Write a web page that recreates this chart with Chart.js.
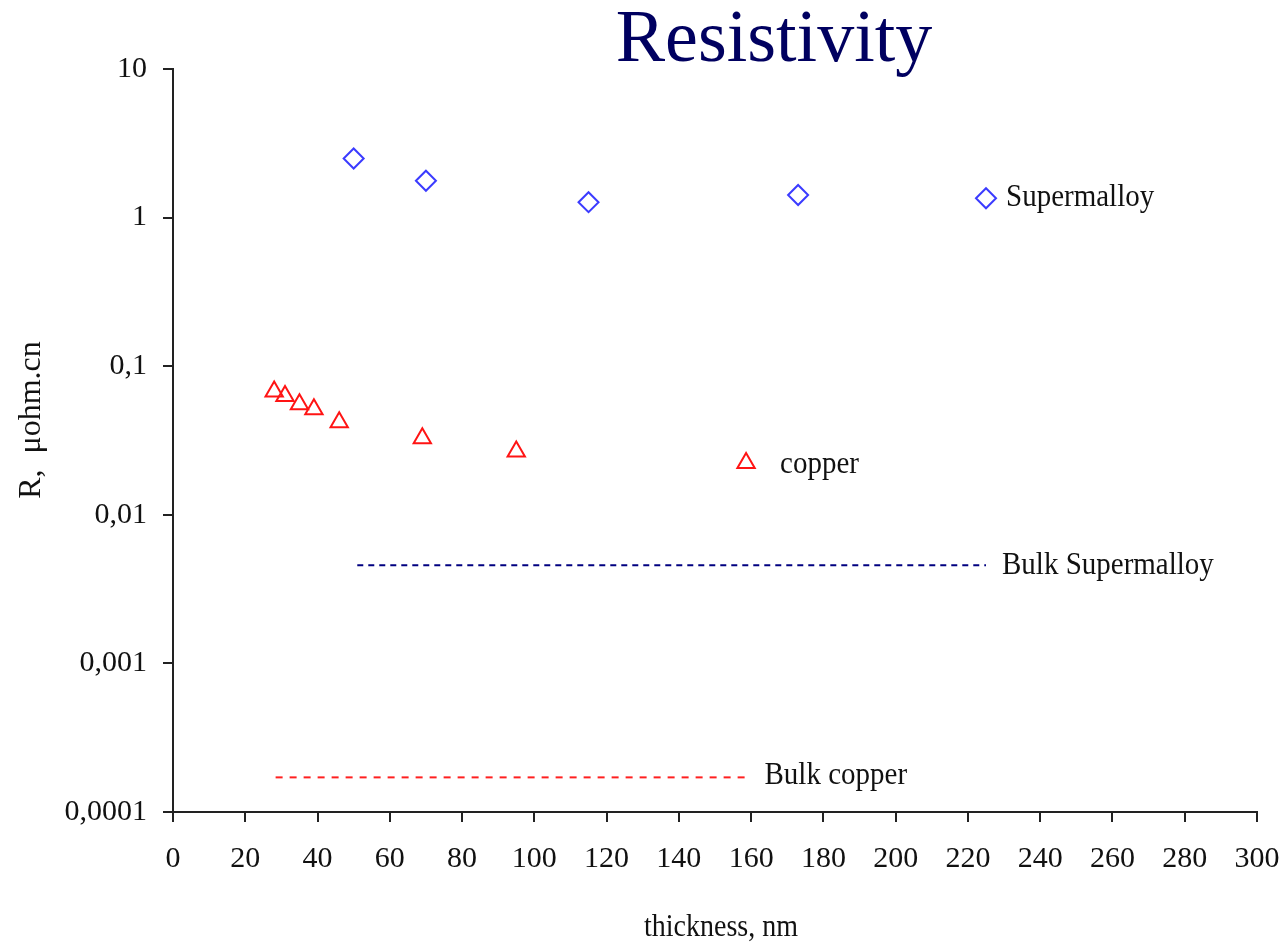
<!DOCTYPE html>
<html lang="en">

<head>
    <meta charset="UTF-8">
    <title>Resistivity</title>
    <style>
        body {
            margin: 0;
            padding: 0;
            background-color: #fff;
        }

        #wrap {
            width: 1286px;
            height: 945px;
        }
    </style>
    <script src="https://cdn.jsdelivr.net/npm/chart.js"></script>
</head>

<body>
    <div id="wrap">
        <canvas id="chart" width="1286" height="945"></canvas>
    </div>

    <script>
        // data (thickness in nm, R in µohm.cm)
        const supermalloyX = [50, 70, 115, 173, 225];
        const supermalloyY = [2.5, 1.77, 1.27, 1.42, 1.35];

        const copperX = [28, 31, 35, 39, 46, 69, 95, 158.6];
        const copperY = [0.0676, 0.063, 0.0554, 0.0513, 0.0419, 0.0328, 0.0267, 0.0223];

        const bulkSupermalloyX = [51, 225];
        const bulkSupermalloyY = [0.00457, 0.00457];

        const bulkCopperX = [28.4, 159];
        const bulkCopperY = [0.000171, 0.000171];

        const yTickValues = [0.0001, 0.001, 0.01, 0.1, 1, 10];
        const yTickLabels = ['0,0001', '0,001', '0,01', '0,1', '1', '10'];

        const seriesNames = ['Supermalloy', 'copper', 'Bulk Supermalloy', 'Bulk copper'];

        function toPoints(xs, ys) {
            return xs.map((x, i) => ({ x: x, y: ys[i] }));
        }

        const serif = 'Liberation Serif';

        // text drawn slightly stretched, the original font is tall and narrow
        function stretchedText(ctx, text, x, y, size, sy, color, align) {
            ctx.save();
            ctx.translate(x, y);
            ctx.scale(1, sy);
            ctx.font = size + 'px "' + serif + '"';
            ctx.fillStyle = color;
            ctx.textAlign = align || 'left';
            ctx.textBaseline = 'middle';
            ctx.fillText(text, 0, 0);
            ctx.restore();
        }

        const labelsPlugin = {
            id: 'labels',
            afterDraw(chart) {
                const ctx = chart.ctx;
                const xs = chart.scales.x;
                const ys = chart.scales.y;

                // title
                stretchedText(ctx, 'Resistivity', 774, 42, 74, 1.0, '#000060', 'center');

                // series names next to the last mark of each series
                const lastS = supermalloyX.length - 1;
                stretchedText(ctx, seriesNames[0], xs.getPixelForValue(supermalloyX[lastS]) + 20,
                    ys.getPixelForValue(supermalloyY[lastS]) - 1, 29, 1.12, '#111');
                const lastC = copperX.length - 1;
                stretchedText(ctx, seriesNames[1], xs.getPixelForValue(copperX[lastC]) + 34,
                    ys.getPixelForValue(copperY[lastC]) + 1, 29, 1.12, '#111');
                stretchedText(ctx, seriesNames[2], xs.getPixelForValue(bulkSupermalloyX[1]) + 16,
                    ys.getPixelForValue(bulkSupermalloyY[1]), 29, 1.12, '#111');
                stretchedText(ctx, seriesNames[3], xs.getPixelForValue(bulkCopperX[1]) + 17,
                    ys.getPixelForValue(bulkCopperY[1]) - 2, 29, 1.12, '#111');

                // axis titles
                stretchedText(ctx, 'thickness, nm', 721, 928, 28, 1.12, '#111', 'center');
                ctx.save();
                ctx.translate(32, 420);
                ctx.rotate(-Math.PI / 2);
                ctx.font = '32px "' + serif + '"';
                ctx.fillStyle = '#111';
                ctx.textAlign = 'center';
                ctx.textBaseline = 'middle';
                ctx.fillText('R,  \u03bcohm.cn', 0, 0);
                ctx.restore();
            }
        };

        const ctx = document.getElementById('chart').getContext('2d');
        new Chart(ctx, {
            type: 'scatter',
            data: {
                datasets: [
                    {
                        label: seriesNames[0],
                        data: toPoints(supermalloyX, supermalloyY),
                        pointStyle: 'rectRot',
                        pointRadius: 10,
                        borderColor: '#3b3bff',
                        backgroundColor: 'rgba(255,255,255,0)',
                        borderWidth: 2,
                        showLine: false
                    },
                    {
                        label: seriesNames[1],
                        data: toPoints(copperX, copperY),
                        pointStyle: 'triangle',
                        pointRadius: 10,
                        borderColor: '#ff1414',
                        backgroundColor: 'rgba(255,255,255,0)',
                        borderWidth: 2,
                        showLine: false
                    },
                    {
                        label: seriesNames[2],
                        data: toPoints(bulkSupermalloyX, bulkSupermalloyY),
                        showLine: true,
                        pointRadius: 0,
                        borderColor: '#000080',
                        borderWidth: 2,
                        borderDash: [6, 5]
                    },
                    {
                        label: seriesNames[3],
                        data: toPoints(bulkCopperX, bulkCopperY),
                        showLine: true,
                        pointRadius: 0,
                        borderColor: '#ff2020',
                        borderWidth: 2,
                        borderDash: [7, 7]
                    }
                ]
            },
            options: {
                responsive: false,
                animation: false,
                layout: {
                    padding: { top: 69, right: 29, left: 0, bottom: 0 }
                },
                plugins: {
                    legend: { display: false },
                    tooltip: { enabled: false },
                    title: { display: false }
                },
                scales: {
                    x: {
                        type: 'linear',
                        min: 0,
                        max: 300,
                        afterFit(scale) {
                            scale.height = 133;
                            scale.paddingLeft = 0;
                            scale.paddingRight = 0;
                        },
                        ticks: {
                            stepSize: 20,
                            padding: 19,
                            color: '#111',
                            font: { family: serif, size: 30 }
                        },
                        grid: {
                            drawOnChartArea: false,
                            drawTicks: true,
                            tickLength: 10,
                            tickColor: '#222',
                            lineWidth: 2
                        },
                        border: { display: true, color: '#222', width: 2 }
                    },
                    y: {
                        type: 'logarithmic',
                        min: 0.0001,
                        max: 10,
                        afterFit(scale) {
                            scale.width = 173;
                            scale.paddingTop = 0;
                            scale.paddingBottom = 0;
                        },
                        afterBuildTicks(scale) {
                            scale.ticks = yTickValues.map(v => ({ value: v }));
                        },
                        ticks: {
                            padding: 16,
                            color: '#111',
                            font: { family: serif, size: 30 },
                            callback: (value, index) => yTickLabels[index]
                        },
                        grid: {
                            drawOnChartArea: false,
                            drawTicks: true,
                            tickLength: 10,
                            tickColor: '#222',
                            lineWidth: 2
                        },
                        border: { display: true, color: '#222', width: 2 }
                    }
                }
            },
            plugins: [labelsPlugin]
        });
    </script>
</body>

</html>
